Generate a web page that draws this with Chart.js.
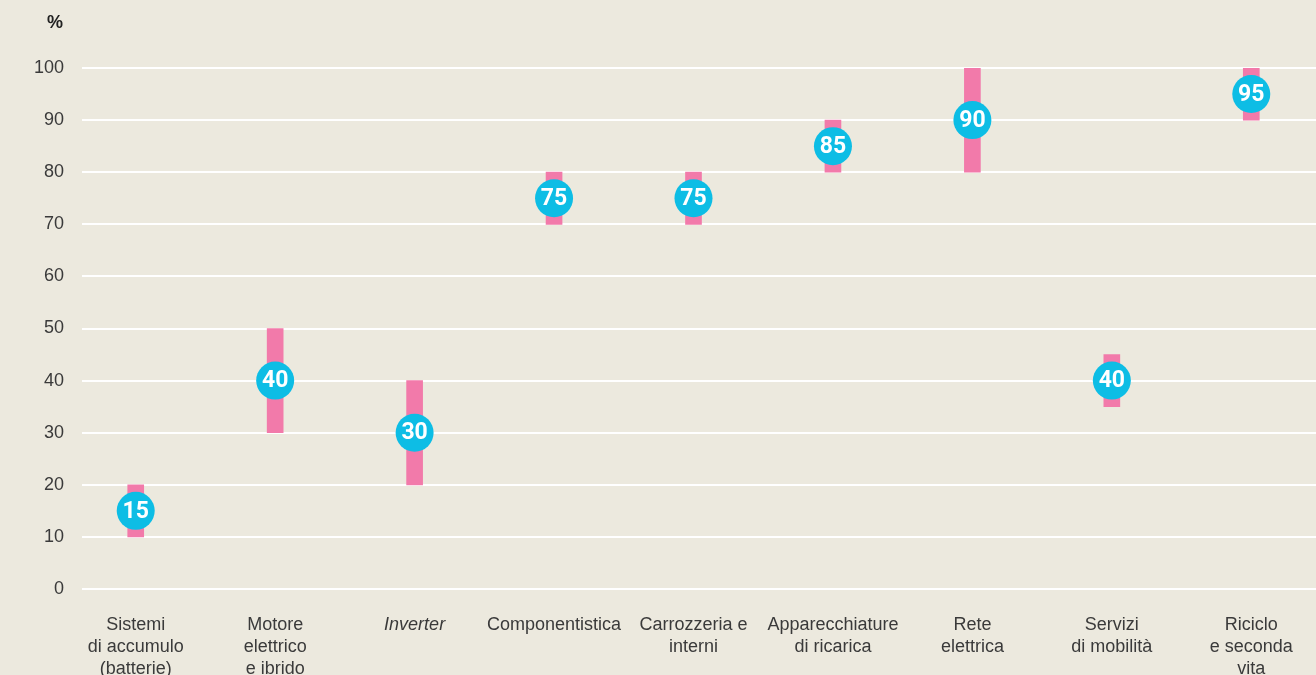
<!DOCTYPE html>
<html><head><meta charset="utf-8">
<script src="https://cdn.jsdelivr.net/npm/chart.js@4"></script>
<style>html,body{margin:0;padding:0;background:#ECE9DE;overflow:hidden}#wrap{width:1316px;height:675px;overflow:hidden}</style>
</head><body><div id="wrap"><canvas id="c" width="1340" height="675"></canvas></div>
<script>
const categories = [['Sistemi','di accumulo','(batterie)'], ['Motore','elettrico','e ibrido'], 'Inverter', 'Componentistica', ['Carrozzeria e','interni'], ['Apparecchiature','di ricarica'], ['Rete','elettrica'], ['Servizi','di mobilità'], ['Riciclo','e seconda','vita']];
const midValues = [15, 40, 30, 75, 75, 85, 90, 40, 95];
const lowValues = [10, 30, 20, 70, 70, 80, 80, 35, 90];
const highValues = [20, 50, 40, 80, 80, 90, 100, 45, 100];
const yTicks = [0, 10, 20, 30, 40, 50, 60, 70, 80, 90, 100];
const unitLabel = '%';

const FONT = "'Liberation Sans', Arial, sans-serif";
const GRID_START_X = 82;

const overlay = {
  id: 'overlay',
  beforeDatasetsDraw(chart) {
    const ctx = chart.ctx;
    const y = chart.scales.y;
    ctx.save();
    ctx.strokeStyle = '#ffffff';
    ctx.lineWidth = 2;
    y.ticks.forEach(t => {
      const py = Math.round(y.getPixelForValue(t.value));
      ctx.beginPath();
      ctx.moveTo(GRID_START_X, py);
      ctx.lineTo(chart.width, py);
      ctx.stroke();
    });
    ctx.restore();
  },
  afterDatasetsDraw(chart) {
    const ctx = chart.ctx;
    const meta = chart.getDatasetMeta(0);
    ctx.save();
    ctx.fillStyle = '#ffffff';
    ctx.font = "bold 23px Roboto, " + FONT;
    ctx.textAlign = 'center';
    ctx.textBaseline = 'middle';
    meta.data.forEach((pt, i) => {
      ctx.fillText(String(midValues[i]), pt.x, pt.y + 1);
    });
    ctx.restore();
  },
  afterDraw(chart) {
    const ctx = chart.ctx;
    ctx.save();
    ctx.fillStyle = '#222';
    ctx.font = "bold 18px " + FONT;
    ctx.textAlign = 'right';
    ctx.textBaseline = 'middle';
    ctx.fillText(unitLabel, 63, 23);
    ctx.restore();
  }
};

new Chart(document.getElementById('c'), {
  data: {
    labels: categories,
    datasets: [
      {
        type: 'line',
        data: midValues,
        showLine: false,
        pointRadius: 19,
        pointHoverRadius: 19,
        pointBackgroundColor: '#0DBDE5',
        pointBorderWidth: 0,
        order: 0
      },
      {
        type: 'bar',
        data: lowValues.map((v, i) => [v, highValues[i]]),
        backgroundColor: '#F27AAA',
        barThickness: 16,
        borderWidth: 0,
        order: 1
      }
    ]
  },
  options: {
    responsive: false,
    animation: false,
    events: [],
    layout: { padding: { top: 68, left: 0, right: 0, bottom: 0 } },
    plugins: { legend: { display: false }, tooltip: { enabled: false } },
    scales: {
      x: {
        offset: true,
        grid: { display: false, drawTicks: false },
        border: { display: false },
        afterFit(s) { s.height = 86; s.paddingLeft = 0; s.paddingRight = 0; },
        ticks: {
          autoSkip: false,
          maxRotation: 0,
          minRotation: 0,
          padding: 25,
          color: '#3a3a3a',
          font: (c) => ({ family: FONT, size: 18, style: c.index === 2 ? 'italic' : 'normal', lineHeight: '22px' })
        }
      },
      y: {
        min: 0, max: 100,
        afterFit(s) { s.width = 66; },
        afterBuildTicks(s) { s.ticks = yTicks.map(v => ({ value: v })); },
        grid: { display: false, drawTicks: false },
        border: { display: false },
        ticks: { padding: 2, color: '#3a3a3a', font: { family: FONT, size: 18 } }
      }
    }
  },
  plugins: [overlay]
});
</script></body></html>
